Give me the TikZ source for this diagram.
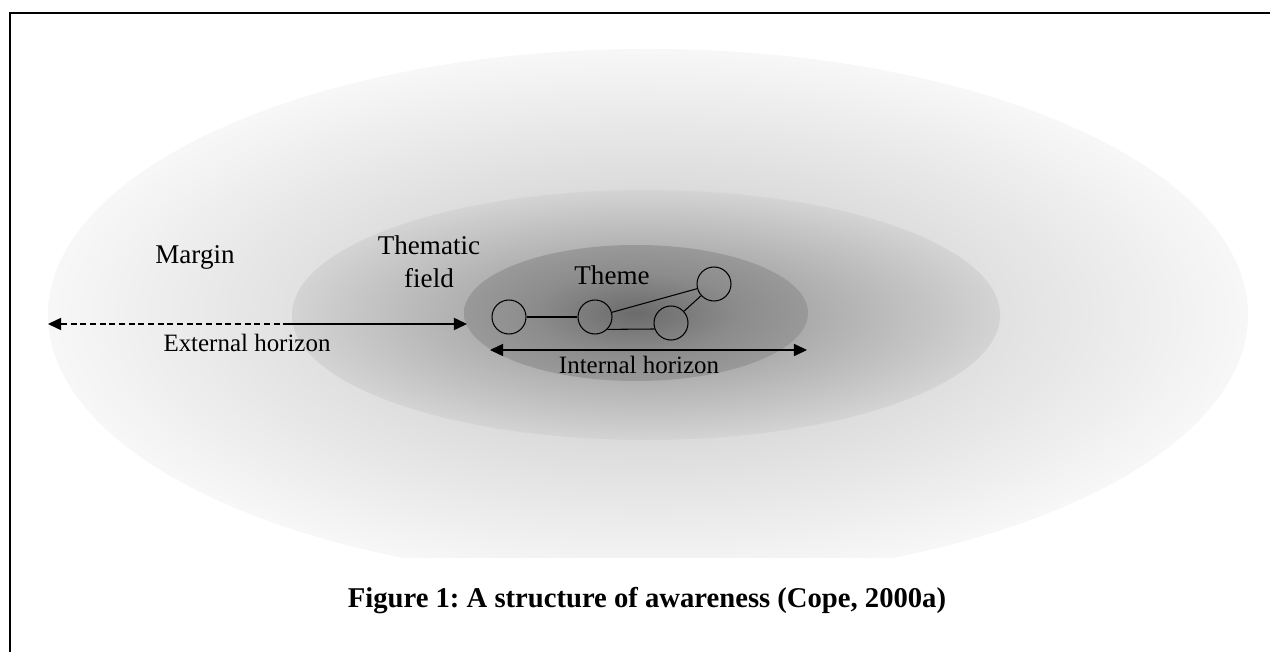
\documentclass[tikz,border=0pt]{standalone}
\usepackage{fontspec}
\setmainfont{Liberation Serif}
\usetikzlibrary{arrows.meta}
\frenchspacing

\pgfdeclareradialshading{marginshade}{\pgfpoint{0bp}{0bp}}{color(0bp)=(black!24); color(25bp)=(black!3); color(50bp)=(black!3)}
\pgfdeclareradialshading{fieldshade}{\pgfpoint{0bp}{0bp}}{color(0bp)=(black!46); color(25bp)=(black!17); color(50bp)=(black!17)}
\pgfdeclareradialshading{themeshade}{\pgfpoint{0bp}{0bp}}{color(0bp)=(black!58); color(15bp)=(black!45); color(25bp)=(black!40); color(50bp)=(black!40)}

\tikzset{
  spot/.style={draw,circle,semithick,minimum size=0.68cm,inner sep=0pt},
  lbl/.style={font=\fontsize{15.4}{18.8}\selectfont},
  hlbl/.style={font=\fontsize{14.2}{17}\selectfont},
}

\begin{document}
\begin{tikzpicture}
   \useasboundingbox (0,0) rectangle (25.4,13.04);
   \draw[line width=1pt] (0.2,0)--(0.2,12.78)--(25.4,12.78); %frame

   \begin{scope}
      \clip (0,1.9) rectangle (25.4,13.04);
      \shade[shading=marginshade] (12.96,6.74) ellipse (12 and 5.32); %margin
   \end{scope}
   \shade[shading=fieldshade] (12.92,6.74) ellipse (7.08 and 2.5); %thematic field
   \shade[shading=themeshade] (12.72,6.78) ellipse (3.44 and 1.36); %theme

   \coordinate (extL) at (0.96,6.56); %external horizon
   \coordinate (extM) at (5.76,6.56);
   \coordinate (extR) at (9.34,6.56);
   \coordinate (intL) at (9.80,6.04); %internal horizon
   \coordinate (intR) at (16.14,6.04);

   \draw[<-,>={Triangle[length=7.5pt,width=7pt]},semithick,dash pattern=on 3.5pt off 2pt] (extL)--(extM);
   \draw[->,>={Triangle[length=7.5pt,width=7pt]},semithick] (extM)--(extR);
   \draw[<->,>={Triangle[length=7.5pt,width=7pt]},semithick] (intL)--(intR);

   \foreach \n/\x/\y in {c1/10.18/6.70, c2/11.90/6.70, c3/13.42/6.58, c4/14.28/7.36}
      \node[spot] (\n) at (\x,\y) {};
   \draw[line width=1.4pt] (c1)--(c2);
   \draw[semithick] (c2)--(c4);
   \draw[semithick] (c3)--(c4);
   \draw[semithick] (c2.-45)--(c3.200);

   \node[lbl] (margin) at (3.90,7.90) {Margin};
   \node[lbl,align=center] (field) at (8.58,7.80) {Thematic\\field};
   \node[lbl] (theme) at (12.24,7.54) {Theme};
   \node[hlbl] (ext) at (4.94,6.18) {External horizon};
   \node[hlbl] (int) at (12.78,5.74) {Internal horizon};
   \node[font=\fontsize{16.3}{20}\selectfont\bfseries] (cap) at (12.94,1.02) {Figure 1: A structure of awareness (Cope, 2000a)};
\end{tikzpicture}
\end{document}
